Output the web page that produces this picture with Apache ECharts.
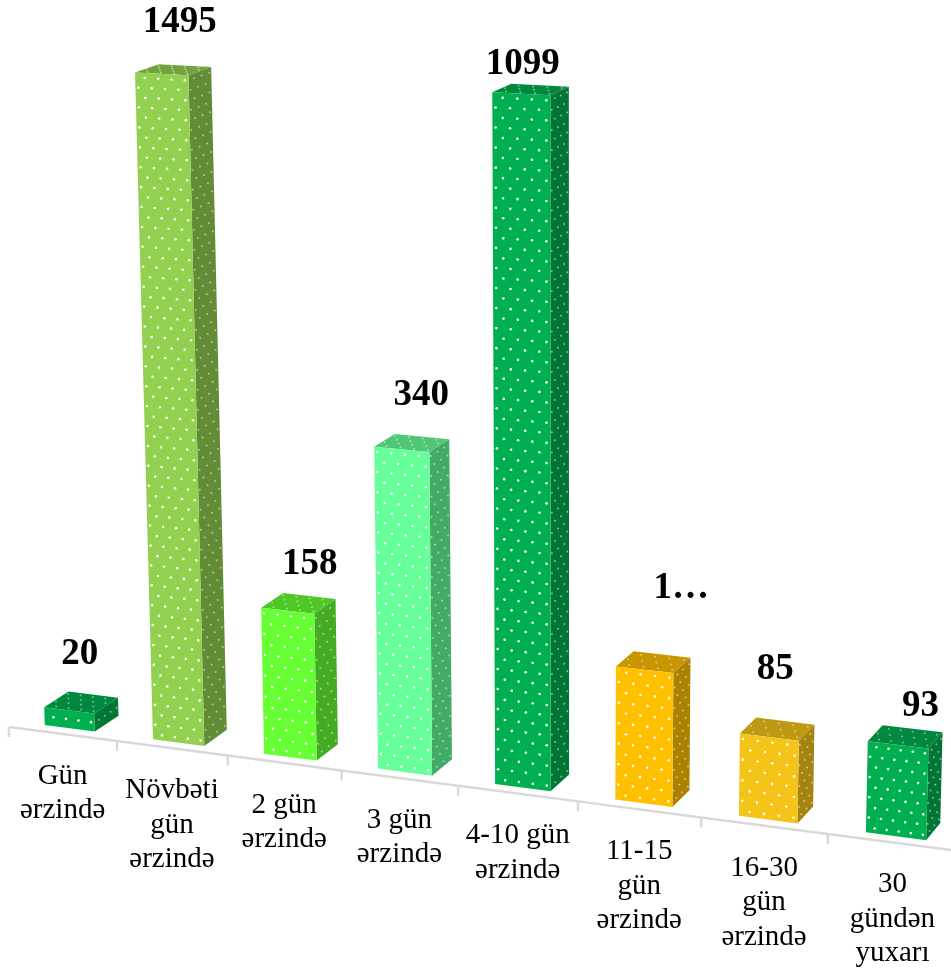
<!DOCTYPE html>
<html>
<head>
<meta charset="utf-8">
<style>html,body{margin:0;padding:0;background:#fff}#chart{width:951px;height:969px}</style>
<script src="https://cdn.jsdelivr.net/npm/echarts@6/dist/echarts.min.js"></script>
</head>
<body>
<div id="chart"></div>
<script>
// Chart data
const categories = ['Gün\nərzində', 'Növbəti\ngün\nərzində', '2 gün\nərzində', '3 gün\nərzində',
  '4-10 gün\nərzində', '11-15\ngün\nərzində', '16-30\ngün\nərzində', '30\ngündən\nyuxarı'];
const values = [20, 1495, 158, 340, 1099, 139, 85, 93];
const valueLabels = ['20', '1495', '158', '340', '1099', '1…', '85', '93'];

// Face colours and hand placement of the value labels
const frontColors = ['#00B050', '#92D050', '#66FF33', '#66FF99', '#00B050', '#FFC000', '#F4C518', '#00B050'];
const labelNudges = [[10.5, -56], [18, -51], [22, -46.3], [19.5, -53.5], [1.5, -29], [36.5, -81.5], [6, -67.5], [22.5, -38.5]];

// Perspective of the scene: screen position of the axis origin and the vanishing points
const ORIGIN = [9, 727];
const VP_X = [-8400, -372];
const VP_Y = [550, 15760];
const VP_Z = [2150, -650];
const A = -0.012676;       // foreshortening along the category direction
const B = -6.65e-5;        // foreshortening along the height
const FRONT_T = 0.004;     // front faces sit slightly behind the axis line
const BACK_T = 0.0155;     // back faces
const BAR_HALF = 0.2325;   // half bar width, in category bands
const BAR_SHIFT = -0.012;  // columns sit a touch left of their band centres
const SERIF = '"Liberation Serif","Times New Roman",serif';
const GRID = { left: 0, top: 96, width: 800, height: 636 };

function project(X, Y) {
  const ax = A * X, by = B * Y;
  const w = 1 + ax + by;
  return [
    (ORIGIN[0] + ax * VP_X[0] + by * VP_Y[0]) / w,
    (ORIGIN[1] + ax * VP_X[1] + by * VP_Y[1]) / w
  ];
}
function toDepth(p, t) {
  return [p[0] + t * (VP_Z[0] - p[0]), p[1] + t * (VP_Z[1] - p[1])];
}
function shade(hex, k) {
  const n = parseInt(hex.slice(1), 16);
  const c = [n >> 16 & 255, n >> 8 & 255, n & 255].map(v => Math.round(v * k));
  return 'rgb(' + c.join(',') + ')';
}
function lerp(a, b, t) { return [a[0] + (b[0] - a[0]) * t, a[1] + (b[1] - a[1]) * t]; }

// Staggered white dots laid out across a four-cornered face (bl, br, tr, tl)
function faceDots(bl, br, tr, tl, stepU, stepV, color, r) {
  const out = [];
  const len = (a, b) => Math.hypot(a[0] - b[0], a[1] - b[1]);
  const wide = Math.max(len(bl, br), len(tl, tr));
  const tall = Math.max(len(bl, tl), len(br, tr));
  const rows = Math.max(1, Math.floor(tall / stepV));
  const cols = Math.max(1, Math.round(wide / stepU));
  for (let j = 0; j < rows; j++) {
    const v = (j + 0.5) / rows;
    const odd = j % 2;
    for (let k = 0; k < cols; k++) {
      const u = (k + (odd ? 0.22 : 0.72)) / cols;
      const p = lerp(lerp(bl, br, u), lerp(tl, tr, u), v);
      out.push({ type: 'circle', silent: true, shape: { cx: p[0], cy: p[1], r: r }, style: { fill: color } });
    }
  }
  return out;
}

function renderBar(params, api) {
  const i = api.value(0);
  const value = api.value(1);
  const band = api.size([1, 0])[0];
  const bottom = GRID.top + GRID.height;
  const base = api.coord([i, 0]);
  const top = api.coord([i, value]);
  const X = (base[0] - GRID.left) / band + BAR_SHIFT;
  const Y = bottom - top[1];

  const f = (x, y) => toDepth(project(x, y), FRONT_T);
  const b = (x, y) => toDepth(project(x, y), BACK_T);
  const fbl = f(X - BAR_HALF, 0), fbr = f(X + BAR_HALF, 0);
  const ftl = f(X - BAR_HALF, Y), ftr = f(X + BAR_HALF, Y);
  const bbr = b(X + BAR_HALF, 0), btr = b(X + BAR_HALF, Y), btl = b(X - BAR_HALF, Y);

  const color = frontColors[i];
  const poly = (points, fill) => ({ type: 'polygon', silent: true, shape: { points: points }, style: { fill: fill } });
  const children = [
    poly([fbr, bbr, btr, ftr], shade(color, 0.67)),
    poly([ftl, ftr, btr, btl], shade(color, 0.78)),
    poly([fbl, fbr, ftr, ftl], color)
  ];
  children.push(...faceDots(fbr, bbr, btr, ftr, 8, 10, 'rgba(255,255,255,0.5)', 1));
  children.push(...faceDots(ftl, ftr, btr, btl, 13.5, 6, 'rgba(255,255,255,0.45)', 1));
  children.push(...faceDots(fbl, fbr, ftr, ftl, 13.5, 10, 'rgba(255,255,255,0.95)', 1.3));

  const nudge = labelNudges[i];
  const anchor = lerp(ftl, ftr, 0.5);
  children.push({
    type: 'text',
    x: anchor[0] + nudge[0],
    y: anchor[1] + nudge[1],
    style: {
      text: valueLabels[i], fill: '#000', align: 'center', verticalAlign: 'middle',
      fontFamily: SERIF, fontWeight: 'bold', fontSize: 37
    }
  });
  return { type: 'group', children: children };
}

function renderAxis(params, api) {
  const i = api.value(0);
  const band = api.size([1, 0])[0];
  const X = (api.coord([i, 0])[0] - GRID.left) / band;
  const style = { stroke: '#D9D9D9', lineWidth: 2.5, fill: null };
  const a = project(X - 0.5, 0), c = project(X + 0.5, 0), mid = project(X, 0);
  const seg = (p, q) => ({ type: 'line', silent: true, shape: { x1: p[0], y1: p[1], x2: q[0], y2: q[1] }, style: style });
  const children = [seg(a, c), seg(a, [a[0], a[1] + 10])];
  children.push({
    type: 'text',
    x: mid[0],
    y: mid[1] + 25,
    style: {
      text: categories[i], fill: '#000', align: 'center', verticalAlign: 'top',
      fontFamily: SERIF, fontSize: 29, lineHeight: 34.5
    }
  });
  return { type: 'group', children: children };
}

const rows = values.map((v, i) => [i, v]);
const chart = echarts.init(document.getElementById('chart'));
chart.setOption({
  backgroundColor: '#fff',
  animation: false,
  grid: GRID,
  xAxis: { type: 'category', data: categories, show: false },
  yAxis: {
    type: 'value', min: 0, max: 1500, show: false,
    // The two tallest columns are compressed on the value scale
    breaks: [
      { start: 700, end: 1094.5, gap: 0 },
      { start: 1099.5, end: 1494.5, gap: 0 }
    ],
    breakArea: { show: false }
  },
  series: [
    { type: 'custom', coordinateSystem: 'cartesian2d', data: rows, encode: { x: 0, y: 1 }, renderItem: renderAxis, z: 1, silent: true },
    { type: 'custom', coordinateSystem: 'cartesian2d', data: rows, encode: { x: 0, y: 1 }, renderItem: renderBar, z: 2, silent: true }
  ]
});
</script>
</body>
</html>
